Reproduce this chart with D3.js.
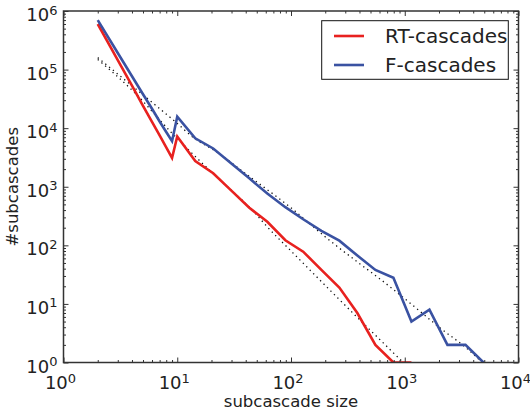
<!DOCTYPE html>
<html>
<head>
<meta charset="utf-8">
<script src="https://cdn.jsdelivr.net/npm/d3@7"></script>
<style>
body { margin: 0; background: #fff; }
text { font-family: "DejaVu Sans", sans-serif; fill: #222; }
</style>
</head>
<body>
<script>
// subcascade sizes (integer sizes, then log bins)
var sizes = [2, 3, 4, 5, 6, 7, 8, 9, 10, 14.4, 20.7, 29.9, 43, 61.9, 89.2, 128, 185, 266, 383, 552, 795, 1145, 1648, 2373, 3418, 4922];

var rtCounts = [6.0e5, 1.45e5, 5.3e4, 2.4e4, 1.28e4, 7.5e3, 4.7e3, 3.1e3, 7.2e3, 2.75e3, 1.7e3, 860, 438, 252, 122, 78, 38, 19, 7, 2, 1, 1];
var fCounts = [7.0e5, 1.92e5, 7.7e4, 3.8e4, 2.15e4, 1.3e4, 8.6e3, 6.0e3, 1.57e4, 6.7e3, 4.5e3, 2500, 1390, 765, 448, 279, 177, 120, 67, 38, 28, 5, 8, 2, 2, 1];

// fitted curves (dotted)
var rtFitX = [2, 4.3, 9, 13, 20, 50, 61, 105, 205, 404, 700, 970];
var rtFitY = [1.49e5, 3.9e4, 8.2e3, 4.0e3, 1.78e3, 330, 213, 73, 19.7, 5.3, 1.86, 1];
var fFitX = [2, 5, 9.6, 14.6, 20.7, 43.6, 98, 206, 405, 607, 1110, 2040, 3500, 4800];
var fFitY = [1.6e5, 3.7e4, 1.29e4, 6.4e3, 4.3e3, 1.47e3, 451, 133, 48, 26.6, 10.4, 3.9, 1.75, 1];

var seriesNames = ["RT-cascades", "F-cascades"];
var seriesColors = ["#e8211f", "#3a52a2"];

var w = 530, h = 412;
var mLeft = 63.5, mRight = 518.5, mTop = 11, mBottom = 362.5;

var svg = d3.select("body").append("svg").attr("width", w).attr("height", h);

var x = d3.scaleLog().domain([1, 1e4]).range([mLeft, mRight]);
var y = d3.scaleLog().domain([1, 1e6]).range([mBottom, mTop]);

svg.append("defs").append("clipPath").attr("id", "clip")
    .append("rect")
    .attr("x", mLeft).attr("y", mTop)
    .attr("width", mRight - mLeft).attr("height", mBottom - mTop);

var plot = svg.append("g").attr("clip-path", "url(#clip)");

var line = d3.line()
    .x(function(d) { return x(d[0]); })
    .y(function(d) { return y(d[1]); });

var smooth = d3.line()
    .x(function(d) { return x(d[0]); })
    .y(function(d) { return y(d[1]); })
    .curve(d3.curveMonotoneX);

// dotted fits
[[rtFitX, rtFitY], [fFitX, fFitY]].forEach(function(f) {
    plot.append("path")
        .datum(d3.zip(f[0], f[1]))
        .attr("d", smooth)
        .attr("fill", "none")
        .attr("stroke", "#111")
        .attr("stroke-width", 1.3)
        .attr("stroke-dasharray", "1.3,3.6");
});

// data lines
[rtCounts, fCounts].forEach(function(c, i) {
    plot.append("path")
        .datum(d3.zip(sizes.slice(0, c.length), c))
        .attr("d", line)
        .attr("fill", "none")
        .attr("stroke", seriesColors[i])
        .attr("stroke-width", 2.6)
        .attr("stroke-linejoin", "miter");
});

// ticks
var xMajor = [1, 10, 100, 1000, 10000];
var yMajor = [1, 10, 100, 1000, 1e4, 1e5, 1e6];
var xMinor = [], yMinor = [];
xMajor.slice(0, -1).forEach(function(d) { for (var k = 2; k < 10; k++) xMinor.push(d * k); });
yMajor.slice(0, -1).forEach(function(d) { for (var k = 2; k < 10; k++) yMinor.push(d * k); });

function drawAxis(axisFn, scale, vals, size, tr) {
    var g = svg.append("g")
        .attr("transform", tr)
        .call(axisFn(scale).tickValues(vals).tickSize(-size).tickFormat(""));
    g.select(".domain").remove();
    g.selectAll(".tick line").attr("stroke", "#333").attr("stroke-width", 1);
}

drawAxis(d3.axisBottom, x, xMajor, 5, "translate(0," + mBottom + ")");
drawAxis(d3.axisBottom, x, xMinor, 2.5, "translate(0," + mBottom + ")");
drawAxis(d3.axisTop, x, xMajor, 5, "translate(0," + mTop + ")");
drawAxis(d3.axisTop, x, xMinor, 2.5, "translate(0," + mTop + ")");
drawAxis(d3.axisLeft, y, yMajor, 5, "translate(" + mLeft + ",0)");
drawAxis(d3.axisLeft, y, yMinor, 2.5, "translate(" + mLeft + ",0)");
drawAxis(d3.axisRight, y, yMajor, 5, "translate(" + mRight + ",0)");
drawAxis(d3.axisRight, y, yMinor, 2.5, "translate(" + mRight + ",0)");

svg.append("rect")
    .attr("x", mLeft).attr("y", mTop)
    .attr("width", mRight - mLeft).attr("height", mBottom - mTop)
    .attr("fill", "none")
    .attr("stroke", "#333")
    .attr("stroke-width", 1.5);

// tick labels
function powLabel(sel) {
    sel.append("tspan").text("10");
    sel.append("tspan")
        .attr("dy", "-0.5em")
        .attr("font-size", "13px")
        .text(function(d) { return Math.round(Math.log10(d)); });
}

svg.selectAll(".xlab")
    .data(xMajor)
    .enter()
    .append("text")
    .attr("class", "xlab")
    .attr("x", function(d) { return x(d) - 3; })
    .attr("y", 389)
    .attr("font-size", "18px")
    .attr("text-anchor", "middle")
    .call(powLabel);

svg.selectAll(".ylab")
    .data(yMajor)
    .enter()
    .append("text")
    .attr("class", "ylab")
    .attr("x", mLeft - 6)
    .attr("y", function(d) { return y(d) + 10; })
    .attr("font-size", "18px")
    .attr("text-anchor", "end")
    .call(powLabel);

// axis titles
svg.append("text")
    .attr("x", (mLeft + mRight) / 2)
    .attr("y", 407)
    .attr("font-size", "16.5px")
    .attr("text-anchor", "middle")
    .text("subcascade size");

svg.append("text")
    .attr("transform", "translate(18," + ((mTop + mBottom) / 2) + ") rotate(-90)")
    .attr("font-size", "16.5px")
    .attr("text-anchor", "middle")
    .text("#subcascades");

// legend
var legend = svg.append("g");
legend.append("rect")
    .attr("x", 321.7).attr("y", 20.7)
    .attr("width", 186.6).attr("height", 58.6)
    .attr("fill", "#fff")
    .attr("stroke", "#111")
    .attr("stroke-width", 1);

seriesNames.forEach(function(name, i) {
    var ly = 36 + i * 29;
    legend.append("line")
        .attr("x1", 334).attr("x2", 364)
        .attr("y1", ly).attr("y2", ly)
        .attr("stroke", seriesColors[i])
        .attr("stroke-width", 2.6);
    legend.append("text")
        .attr("x", 385)
        .attr("y", ly + 7)
        .attr("font-size", "20px")
        .text(name);
});
</script>
</body>
</html>
